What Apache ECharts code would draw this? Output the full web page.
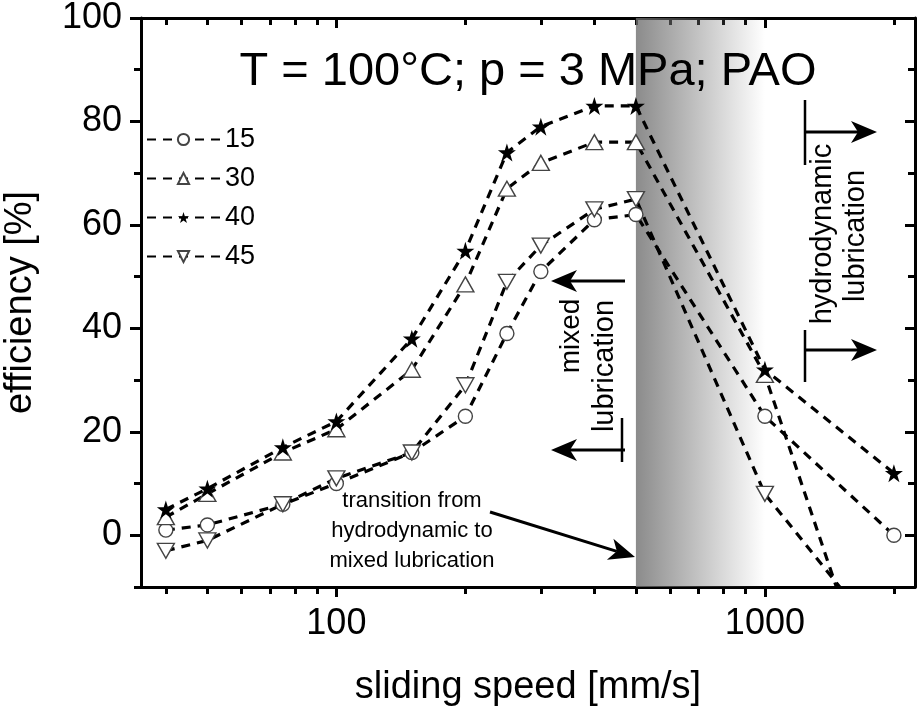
<!DOCTYPE html>
<html><head><meta charset="utf-8">
<script src="https://cdn.jsdelivr.net/npm/echarts@6/dist/echarts.min.js"></script>
<style>html,body{margin:0;padding:0;background:#fff}#c{width:917px;height:706px}</style>
</head><body><div id="c"></div>
<script>
// ---- data ----
const speeds = [40, 50, 75, 100, 150, 200, 250, 300, 400, 500, 1000, 2000];
const eff15 = [1, 2, 6, 10, 16, 23, 39, 51, 61, 62, 23, 0];
const eff30 = [3.5, 8, 16, 20.5, 32, 48.5, 67, 72, 76, 76, 31, -43];
const eff40 = [5, 9, 17, 22, 38, 55, 74, 79, 83, 83, 32, 12];
const eff45 = [-3, -1, 6, 11, 16, 29, 49, 56, 63, 65, 8, -23];
const seriesNames = ['15', '30', '40', '45'];
const xMajorTicks = [100, 1000];
const xMinorTicks = [40, 50, 60, 70, 80, 90, 200, 300, 400, 500, 600, 700, 800, 900, 2000];
const yMajorTicks = [0, 20, 40, 60, 80, 100];
const yMinorTicks = [-10, 10, 30, 50, 70, 90];
const shadeRange = [500, 1000];

const FONT = 'Liberation Sans, Arial, Helvetica, sans-serif';
const STAR = 'path://M50,0 L61.2,34.5 L97.6,34.5 L68.2,55.9 L79.4,90.5 L50,69.1 L20.6,90.5 L31.8,55.9 L2.4,34.5 L38.8,34.5 Z';

function xAx(pos, ticks, len, inside, showLine, labels) {
  return {
    type: 'log', min: 35, max: 2240, position: pos, gridIndex: 0,
    axisLine: { show: showLine, onZero: false, lineStyle: { color: '#000', width: 3 } },
    axisTick: { show: true, inside: inside, length: len, customValues: ticks, lineStyle: { color: '#000', width: 3 } },
    axisLabel: labels ? { show: true, customValues: labels, fontSize: 36, color: '#000', fontFamily: FONT, margin: 19,
      formatter: v => String(Math.round(v)) } : { show: false },
    splitLine: { show: false }, minorTick: { show: false }
  };
}
function yAx(pos, ticks, len, inside, showLine, labels) {
  return {
    type: 'value', min: -10, max: 100, position: pos, gridIndex: 0,
    axisLine: { show: showLine, onZero: false, lineStyle: { color: '#000', width: 3 } },
    axisTick: { show: true, inside: inside, length: len, customValues: ticks, lineStyle: { color: '#000', width: 3 } },
    axisLabel: labels ? { show: true, customValues: labels, fontSize: 36, color: '#000', fontFamily: FONT, margin: 19 } : { show: false },
    splitLine: { show: false }
  };
}

const xAxes = [
  Object.assign(xAx('bottom', xMajorTicks, 10, false, true, xMajorTicks), {
    name: 'sliding speed [mm/s]', nameLocation: 'middle', nameGap: 82,
    nameTextStyle: { fontSize: 38, color: '#000', fontFamily: FONT }
  }),
  xAx('bottom', xMinorTicks, 7, false, false, null),
  xAx('top', xMajorTicks, 10, true, true, null),
  xAx('top', xMinorTicks, 7, true, false, null)
];
const yAxes = [
  Object.assign(yAx('left', yMajorTicks, 11, false, true, yMajorTicks), {
    name: 'efficiency [%]', nameLocation: 'middle', nameGap: 101, nameRotate: 90,
    nameTextStyle: { fontSize: 38, color: '#000', fontFamily: FONT }
  }),
  yAx('left', yMinorTicks, 7, false, false, null),
  yAx('right', yMajorTicks, 10, true, true, null),
  yAx('right', yMinorTicks, 7, true, false, null)
];

function mkSeries(name, vals, symbol, size, filled, rotate) {
  return {
    name: name, type: 'line', xAxisIndex: 0, yAxisIndex: 0,
    data: speeds.map((s, i) => [s, vals[i]]),
    symbol: symbol, symbolSize: size, symbolRotate: rotate || 0, showAllSymbol: true,
    lineStyle: { color: '#000', width: 3.2, type: [9, 7] },
    itemStyle: filled ? { color: '#000', borderColor: '#000', borderWidth: 0 } : { color: '#fff', borderColor: '#444', borderWidth: 1.4 },
    emphasis: { disabled: true }, z: 3
  };
}

function arrowEls(x1, y1, x2, y2) {
  const dx = x2 - x1, dy = y2 - y1, L = Math.hypot(dx, dy);
  const ux = dx / L, uy = dy / L, px = -uy, py = ux;
  const hl = 26, hw = 11, inset = 7;
  const bx = x2 - ux * hl, by = y2 - uy * hl;
  return [
    { type: 'line', shape: { x1: x1, y1: y1, x2: x2 - ux * (hl - inset), y2: y2 - uy * (hl - inset) }, style: { stroke: '#000', lineWidth: 3 }, z: 100 },
    { type: 'polygon', shape: { points: [[x2, y2], [bx + px * hw, by + py * hw], [x2 - ux * (hl - inset), y2 - uy * (hl - inset)], [bx - px * hw, by - py * hw]] }, style: { fill: '#000' }, z: 100 }
  ];
}
function bar(x, y1, y2) {
  return { type: 'line', shape: { x1: x, y1: y1, x2: x, y2: y2 }, style: { stroke: '#000', lineWidth: 2.5 }, z: 100 };
}
function txt(text, x, y, size, rot, lh) {
  return { type: 'text', x: x, y: y, rotation: rot || 0, z: 100,
    style: { text: text, fontSize: size, fontFamily: FONT, fill: '#000', align: 'center', verticalAlign: 'middle', lineHeight: lh || size * 1.15 } };
}

const graphics = [].concat(
  [txt('T = 100°C; p = 3 MPa; PAO', 528, 72, 47)],
  [txt('mixed', 571, 336, 28, Math.PI / 2), txt('lubrication', 605, 366, 29, Math.PI / 2)],
  arrowEls(625, 281, 551, 281), arrowEls(625, 450, 551, 450), [bar(622, 418, 462)],
  [txt('hydrodynamic', 823, 234, 29, Math.PI / 2), txt('lubrication', 856, 236, 29, Math.PI / 2)],
  arrowEls(804, 132, 877, 132), arrowEls(804, 350, 877, 350), [bar(805, 100, 165), bar(805, 330, 382)],
  [txt('transition from\nhydrodynamic to\nmixed lubrication', 412, 531, 22, 0, 30)],
  arrowEls(490, 512, 635, 557)
);

const chart = echarts.init(document.getElementById('c'), null, { renderer: 'canvas' });
chart.setOption({
  animation: false,
  backgroundColor: '#fff',
  grid: { left: 141, right: 2, top: 18, bottom: 119, containLabel: false, outerBoundsMode: 'none' },
  xAxis: xAxes,
  yAxis: yAxes,
  legend: {
    data: seriesNames, orient: 'vertical', left: 141, top: 121,
    itemWidth: 73, itemHeight: 14, itemGap: 12, 
    textStyle: { fontSize: 27, color: '#000', fontFamily: FONT }
  },
  series: [
    mkSeries(seriesNames[0], eff15, 'circle', 14, false),
    mkSeries(seriesNames[1], eff30, 'triangle', [17, 15], false),
    mkSeries(seriesNames[2], eff40, STAR, 18, true),
    mkSeries(seriesNames[3], eff45, 'triangle', [17, 15], false, 180),
    {
      name: 'shade', type: 'line', data: [], z: 10, silent: true,
      markArea: {
        silent: true,
        itemStyle: { color: { type: 'linear', x: 0, y: 0, x2: 1, y2: 0,
          colorStops: [{ offset: 0, color: 'rgba(110,110,110,0.8)' }, { offset: 1, color: 'rgba(110,110,110,0)' }] } },
        data: [[{ xAxis: shadeRange[0], yAxis: -10 }, { xAxis: shadeRange[1], yAxis: 100 }]]
      }
    }
  ],
  graphic: graphics
});
</script></body></html>
